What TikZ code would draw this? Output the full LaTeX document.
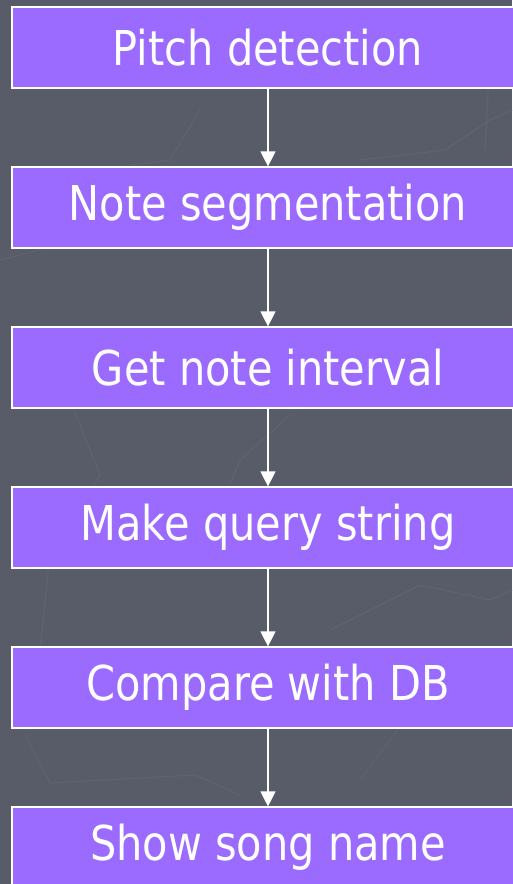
\documentclass[tikz,border=0pt]{standalone}
\usepackage{fontspec}
\setmainfont{DejaVu Sans}
\usetikzlibrary{arrows.meta}
\definecolor{bgc}{HTML}{585B68}
\definecolor{bgline}{HTML}{60636E}
\definecolor{boxc}{HTML}{9B6AFF}
\newcommand{\boxlabel}[1]{\scalebox{0.865}[1]{#1}}
\tikzset{
  stepbox/.style={draw=white, line width=1.2pt, fill=boxc, minimum width=512pt, minimum height=81pt,
    inner sep=0pt, text=white, font=\fontsize{48}{52}\selectfont},
  flow/.style={draw=white, line width=1.2pt, -{Triangle[width=15pt,length=15pt]}},
  deco/.style={draw=bgline, line width=1.2pt}
}
\begin{document}
\begin{tikzpicture}[x=1pt,y=-1pt]
\fill[bgc] (0,0) rectangle (512,884);
\useasboundingbox (0,0) rectangle (512,884);
% faint background decoration
\draw[deco] (0,260) -- (40,250) -- (100,175) -- (150,195);
\draw[deco] (70,400) -- (100,475) -- (50,555) -- (40,650);
\draw[deco] (25,735) -- (50,783) -- (195,775) -- (240,795);
\draw[deco] (215,520) -- (240,460) -- (290,415);
\draw[deco] (330,630) -- (420,585) -- (490,600) -- (512,590);
\draw[deco] (360,780) -- (420,700) -- (400,650);
\draw[deco] (360,160) -- (445,150) -- (490,120) -- (512,110);
\draw[deco] (490,60) -- (485,150);
\draw[deco] (200,110) -- (170,160) -- (130,165);
\node[stepbox] (n1) at (268,47.5) {\boxlabel{Pitch detection}};
\node[stepbox] (n2) at (268,207.5) {\boxlabel{Note segmentation}};
\node[stepbox] (n3) at (268,367.5) {\boxlabel{Get note interval}};
\node[stepbox] (n4) at (268,527.5) {\boxlabel{Make query string}};
\node[stepbox] (n5) at (268,687.5) {\boxlabel{Compare with DB}};
\node[stepbox] (n6) at (268,847.5) {\boxlabel{Show song name}};
\draw[flow] (n1) -- (n2);
\draw[flow] (n2) -- (n3);
\draw[flow] (n3) -- (n4);
\draw[flow] (n4) -- (n5);
\draw[flow] (n5) -- (n6);
\end{tikzpicture}
\end{document}
